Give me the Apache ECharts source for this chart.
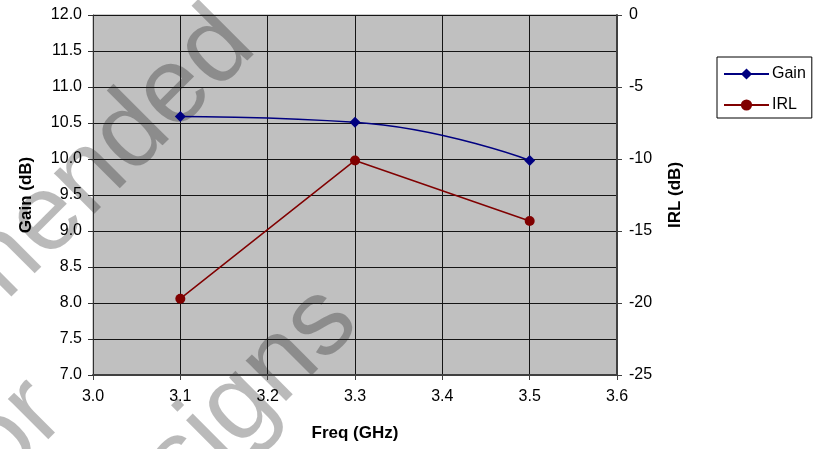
<!DOCTYPE html>
<html>
<head>
<meta charset="utf-8">
<script src="https://cdn.jsdelivr.net/npm/echarts@6/dist/echarts.min.js"></script>
<style>
html,body{margin:0;padding:0;background:#fff;}
#c{width:813px;height:449px;}
</style>
</head>
<body>
<div id="c"></div>
<script>
// ---- data ----
const freq = [3.1, 3.3, 3.5];
const gain = [10.59, 10.51, 9.98];
const irl = [-19.7, -10.1, -14.3];
const seriesNames = ['Gain', 'IRL'];
const xAxisTitle = 'Freq (GHz)';
const yLeftTitle = 'Gain (dB)';
const yRightTitle = 'IRL (dB)';
const watermarkLines = ['Not recommended', 'for', 'new designs'];

const FONT = '"Liberation Sans", Arial, sans-serif';
const chart = echarts.init(document.getElementById('c'), null, {renderer: 'canvas'});

const axisLabelStyle = {color: '#000', fontSize: 16, fontFamily: FONT};
const nameStyle = {color: '#000', fontSize: 17, fontWeight: 'bold', fontFamily: FONT};

// watermark placement in a frame rotated 45 degrees (x along text, y across lines)
const wmPos = [[-296, 188], [-311, 315], [-275, 456]];
const wmStyle = {fill: 'rgba(0,0,0,0.27)', fontSize: 108, fontFamily: FONT,
                 align: 'center', verticalAlign: 'middle'};

chart.setOption({
  animation: false,
  backgroundColor: '#fff',
  textStyle: {fontFamily: FONT},
  grid: {
    left: 93, right: 196, top: 15, bottom: 74,
    show: true, backgroundColor: '#c0c0c0', borderColor: '#9a9a9a', borderWidth: 1
  },
  legend: {
    orient: 'vertical',
    left: 717, top: 57,
    padding: [9, 6, 5, 6],
    itemGap: 15,
    itemWidth: 45, itemHeight: 14,
    backgroundColor: '#fff',
    borderColor: '#000', borderWidth: 1, borderRadius: 0,
    textStyle: {color: '#000', fontSize: 16, fontFamily: FONT, padding: [0, 0, 0, -2]},
    data: seriesNames
  },
  xAxis: {
    type: 'value', min: 3.0, max: 3.6, interval: 0.1,
    name: xAxisTitle, nameLocation: 'middle', nameGap: 50, nameTextStyle: nameStyle,
    axisLine: {show: true, onZero: false, lineStyle: {color: '#404040', width: 2}},
    axisTick: {show: true, length: 5, lineStyle: {color: '#404040'}},
    axisLabel: Object.assign({margin: 14, formatter: v => v.toFixed(1)}, axisLabelStyle),
    splitLine: {show: true, lineStyle: {color: '#151515', width: 1}}
  },
  yAxis: [
    {
      type: 'value', min: 7, max: 12, interval: 0.5, position: 'left',
      name: yLeftTitle, nameLocation: 'middle', nameGap: 58, nameRotate: 90, nameTextStyle: nameStyle,
      axisLine: {show: true, lineStyle: {color: '#303030', width: 1}},
      axisTick: {show: true, length: 5, lineStyle: {color: '#303030'}},
      axisLabel: Object.assign({margin: 11, formatter: v => v.toFixed(1)}, axisLabelStyle),
      splitLine: {show: true, lineStyle: {color: '#151515', width: 1}}
    },
    {
      type: 'value', min: -25, max: 0, interval: 5, position: 'right',
      name: yRightTitle, nameLocation: 'middle', nameGap: 50, nameRotate: 90, nameTextStyle: nameStyle,
      axisLine: {show: true, lineStyle: {color: '#404040', width: 2}},
      axisTick: {show: true, length: 5, lineStyle: {color: '#404040'}},
      axisLabel: Object.assign({margin: 12}, axisLabelStyle),
      splitLine: {show: false}
    }
  ],
  series: [
    {
      name: seriesNames[0], type: 'line', yAxisIndex: 0,
      data: freq.map((f, i) => [f, gain[i]]),
      smooth: 0.5,
      symbol: 'diamond', symbolSize: 11,
      lineStyle: {color: '#000080', width: 1.5},
      itemStyle: {color: '#000080'},
      z: 3
    },
    {
      name: seriesNames[1], type: 'line', yAxisIndex: 1,
      data: freq.map((f, i) => [f, irl[i]]),
      symbol: 'circle', symbolSize: 10,
      lineStyle: {color: '#800000', width: 1.5},
      itemStyle: {color: '#800000'},
      z: 3
    }
  ],
  graphic: [
    {
      type: 'group', x: 0, y: 0, rotation: Math.PI / 4, z: 100, silent: true,
      children: watermarkLines.map((t, i) => ({
        type: 'text', x: wmPos[i][0], y: wmPos[i][1],
        style: Object.assign({text: t}, wmStyle)
      }))
    }
  ]
});
</script>
</body>
</html>
